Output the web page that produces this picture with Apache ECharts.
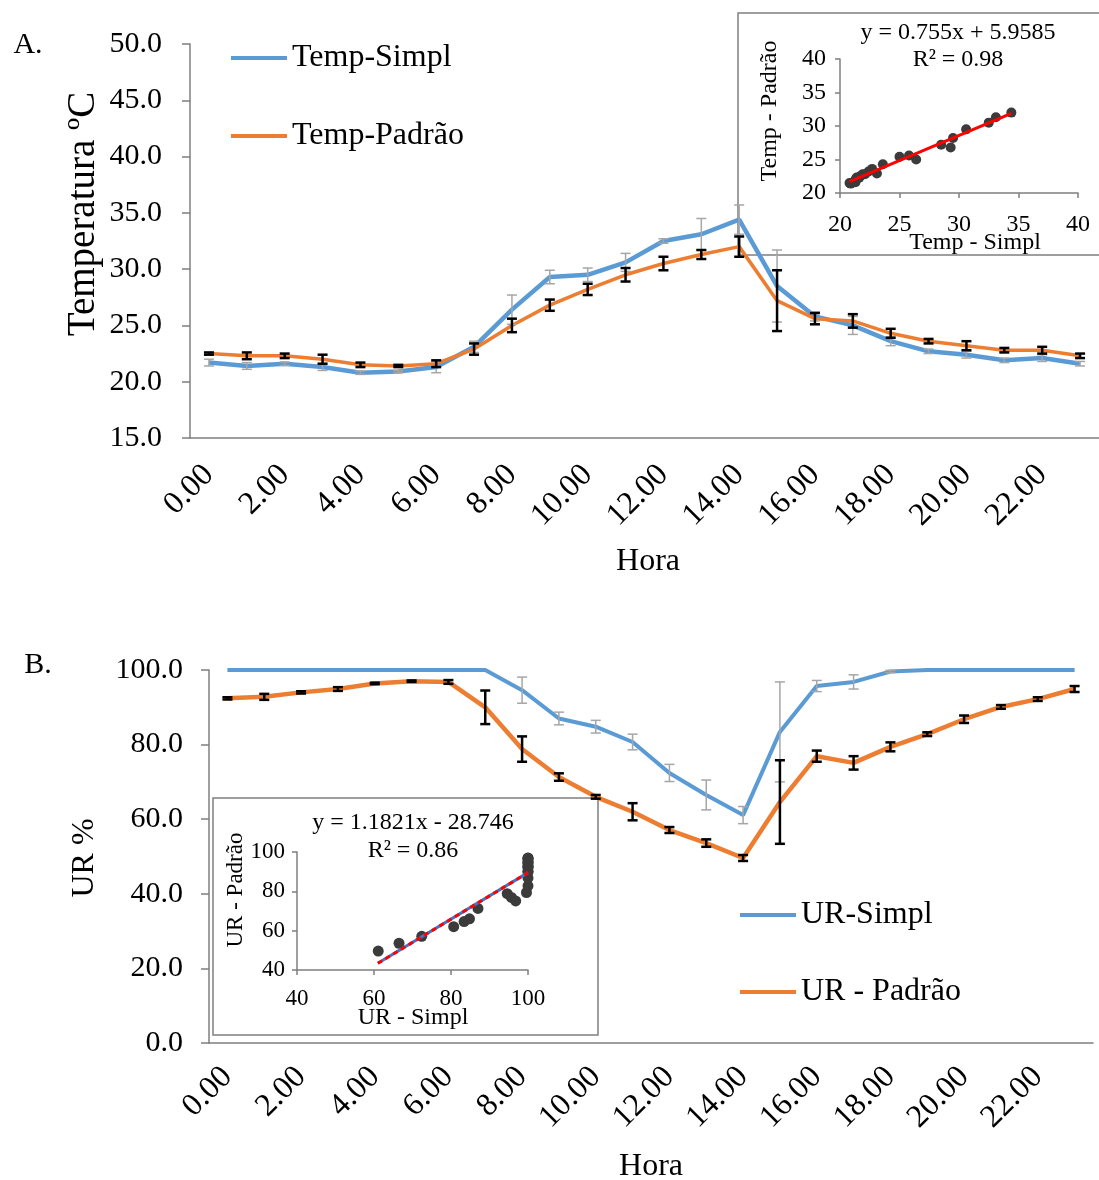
<!DOCTYPE html>
<html>
<head>
<meta charset="utf-8">
<script src="https://cdn.jsdelivr.net/npm/echarts@6/dist/echarts.min.js"></script>
<style>
  html, body { margin: 0; padding: 0; background: #fff; }
  #chart { width: 1099px; height: 1180px; }
</style>
</head>
<body>
<div id="chart"></div>
<script>
// categorias (hora)
const hours = ['0.00', '1.00', '2.00', '3.00', '4.00', '5.00', '6.00', '7.00', '8.00', '9.00', '10.00', '11.00',
  '12.00', '13.00', '14.00', '15.00', '16.00', '17.00', '18.00', '19.00', '20.00', '21.00', '22.00', '23.00']

// A. temperatura
const tempSimpl = [21.7, 21.4, 21.6, 21.3, 20.8, 20.9, 21.3, 23.1, 26.4, 29.3, 29.5, 30.6,
  32.5, 33.1, 34.4, 28.5, 25.8, 25.0, 23.6, 22.7, 22.4, 21.9, 22.1, 21.6]
const tempPadrao = [22.5, 22.3, 22.3, 22.0, 21.5, 21.4, 21.6, 22.9, 25.0, 26.8, 28.2, 29.5,
  30.5, 31.3, 32.0, 27.2, 25.6, 25.4, 24.3, 23.6, 23.2, 22.8, 22.8, 22.3]
const tempSimplErr = [0.3, 0.3, 0.15, 0.3, 0.15, 0.1, 0.5, 0.5, 1.3, 0.6, 0.6, 0.8,
  0.2, 1.4, 1.3, 3.2, 0.4, 0.8, 0.4, 0.2, 0.3, 0.2, 0.3, 0.2]
const tempPadraoErr = [0.1, 0.3, 0.2, 0.4, 0.2, 0.1, 0.3, 0.5, 0.6, 0.5, 0.5, 0.6,
  0.6, 0.4, 0.9, 2.7, 0.5, 0.6, 0.4, 0.2, 0.4, 0.2, 0.3, 0.2]
const tempTrend = [[20.8, 21.7], [34.4, 31.9]]

// B. umidade relativa
const urSimpl = [100, 100, 100, 100, 100, 100, 100, 100, 94.6, 87.0, 84.8, 80.7,
  72.4, 66.5, 61.1, 83.4, 95.7, 96.8, 99.6, 100, 100, 100, 100, 100]
const urPadrao = [92.4, 92.8, 94.0, 94.9, 96.4, 97.0, 96.8, 90.0, 78.8, 71.3, 66.0, 62.0,
  57.1, 53.6, 49.6, 64.6, 76.9, 75.1, 79.4, 82.8, 86.8, 90.1, 92.2, 94.9]
const urSimplErr = [0, 0, 0, 0, 0, 0, 0, 0, 3.5, 1.7, 1.7, 2.1,
  2.3, 4.0, 2.3, 13.4, 1.5, 1.9, 0.3, 0, 0, 0, 0, 0]
const urPadraoErr = [0.3, 0.8, 0.3, 0.5, 0.2, 0.2, 0.5, 4.5, 3.4, 1.0, 0.5, 2.3,
  0.8, 1.0, 0.8, 11.2, 1.5, 1.8, 1.2, 0.5, 1.0, 0.5, 0.5, 0.8]
const urTrend = [[61, 43.4], [100, 89.5]]

const FONT = "'Liberation Serif', 'Times New Roman', serif"
const AXIS = '#7f7f7f'
const BLUE = '#5B9BD5'
const ORANGE = '#ED7D31'

function errData(vals, errs) {
  return vals.map((v, i) => [i, v - errs[i], v + errs[i]])
}

function errSeries(data, xi, color, width) {
  return {
    type: 'custom',
    xAxisIndex: xi,
    yAxisIndex: xi,
    z: 5,
    data: data,
    encode: { x: 0, y: [1, 2] },
    renderItem: function (params, api) {
      const lo = api.coord([api.value(0), api.value(1)])
      const hi = api.coord([api.value(0), api.value(2)])
      if (Math.abs(lo[1] - hi[1]) < 1) return
      const w = 5
      const st = { stroke: color, lineWidth: width }
      return {
        type: 'group',
        children: [
          { type: 'line', shape: { x1: lo[0], y1: lo[1], x2: hi[0], y2: hi[1] }, style: st },
          { type: 'line', shape: { x1: lo[0] - w, y1: lo[1], x2: lo[0] + w, y2: lo[1] }, style: st },
          { type: 'line', shape: { x1: hi[0] - w, y1: hi[1], x2: hi[0] + w, y2: hi[1] }, style: st }
        ]
      }
    }
  }
}

function catAxis(gi, margin) {
  return {
    type: 'category',
    gridIndex: gi,
    data: hours,
    axisLine: { lineStyle: { color: AXIS, width: 1.5 } },
    axisTick: { interval: 3, length: 8, lineStyle: { color: AXIS, width: 1.5 } },
    axisLabel: { interval: 1, rotate: 45, margin: margin, fontFamily: FONT, fontSize: 32, color: '#000' },
    splitLine: { show: false }
  }
}

function valAxis(gi, min, max, step, size, margin, fmt) {
  return {
    type: 'value',
    gridIndex: gi,
    min: min,
    max: max,
    interval: step,
    axisLine: { show: true, lineStyle: { color: AXIS, width: 1.5 } },
    axisTick: { show: true, length: size > 25 ? 8 : 5, lineStyle: { color: AXIS, width: 1.5 } },
    axisLabel: { margin: margin, fontFamily: FONT, fontSize: size, color: '#000', formatter: fmt },
    splitLine: { show: false }
  }
}

function txt(text, x, y, size, rot) {
  return {
    type: 'text',
    x: x,
    y: y,
    rotation: rot ? Math.PI / 2 : 0,
    style: { text: text, fontFamily: FONT, fontSize: size, fill: '#000', align: 'center', verticalAlign: 'middle' }
  }
}

const chart = echarts.init(document.getElementById('chart'))

const legendText = { fontFamily: FONT, fontSize: 32, color: '#000' }

const option = {
  animation: false,
  backgroundColor: '#fff',
  grid: [
    { left: 190, top: 44, width: 917, height: 394 },
    { left: 209, top: 670, width: 884, height: 373 },
    { left: 840, top: 59, width: 238, height: 134 },
    { left: 297, top: 852, width: 231, height: 118 }
  ],
  xAxis: [
    catAxis(0, 32),
    catAxis(1, 29),
    Object.assign(valAxis(2, 20, 40, 5, 24, 20), { axisTick: { length: 5, lineStyle: { color: AXIS, width: 1.5 } } }),
    Object.assign(valAxis(3, 40, 100, 20, 23, 17), { axisTick: { length: 5, lineStyle: { color: AXIS, width: 1.5 } } })
  ],
  yAxis: [
    valAxis(0, 15, 50, 5, 30, 28, v => v.toFixed(1)),
    valAxis(1, 0, 100, 20, 30, 26, v => v.toFixed(1)),
    valAxis(2, 20, 40, 5, 24, 14),
    valAxis(3, 40, 100, 20, 23, 12)
  ],
  legend: [
    {
      data: [{ name: 'Temp-Simpl', icon: 'rect' }, { name: 'Temp-Padrão', icon: 'rect' }],
      orient: 'vertical', left: 231, top: 42, itemGap: 46, itemWidth: 56, itemHeight: 4, padding: 0,
      textStyle: legendText
    },
    {
      data: [{ name: 'UR-Simpl', icon: 'rect' }, { name: 'UR - Padrão', icon: 'rect' }],
      orient: 'vertical', left: 740, top: 899, itemGap: 45, itemWidth: 56, itemHeight: 4, padding: 0,
      textStyle: legendText
    }
  ],
  graphic: [
    { type: 'rect', z: 0, shape: { x: 738, y: 13, width: 380, height: 242 }, style: { fill: 'none', stroke: AXIS, lineWidth: 1.5 } },
    { type: 'rect', z: 0, shape: { x: 213, y: 798, width: 385, height: 237 }, style: { fill: 'none', stroke: AXIS, lineWidth: 1.5 } },
    txt('A.', 28, 45, 30),
    txt('B.', 38, 665, 30),
    txt('Temperatura ºC', 84, 214, 39, true),
    txt('Hora', 648, 562, 32),
    txt('UR %', 85, 858, 32, true),
    txt('Hora', 651, 1167, 32),
    txt('y = 0.755x + 5.9585', 958, 33, 24),
    txt('R² = 0.98', 958, 60, 24),
    txt('Temp - Padrão', 770, 111, 24, true),
    txt('Temp - Simpl', 975, 243, 24),
    txt('y = 1.1821x - 28.746', 413, 823, 24),
    txt('R² = 0.86', 413, 851, 24),
    txt('UR - Padrão', 236, 890, 23, true),
    txt('UR - Simpl', 413, 1018, 24)
  ],
  series: [
    {
      name: 'Temp-Simpl', type: 'line', xAxisIndex: 0, yAxisIndex: 0, data: tempSimpl,
      symbol: 'none', color: BLUE, lineStyle: { color: BLUE, width: 4.5 }, z: 3
    },
    {
      name: 'Temp-Padrão', type: 'line', xAxisIndex: 0, yAxisIndex: 0, data: tempPadrao,
      symbol: 'none', color: ORANGE, lineStyle: { color: ORANGE, width: 3.5 }, z: 4
    },
    errSeries(errData(tempSimpl, tempSimplErr), 0, '#a6a6a6', 1.5),
    errSeries(errData(tempPadrao, tempPadraoErr), 0, '#000', 2.5),
    {
      name: 'UR-Simpl', type: 'line', xAxisIndex: 1, yAxisIndex: 1, data: urSimpl,
      symbol: 'none', color: BLUE, lineStyle: { color: BLUE, width: 4 }, z: 3
    },
    {
      name: 'UR - Padrão', type: 'line', xAxisIndex: 1, yAxisIndex: 1, data: urPadrao,
      symbol: 'none', color: ORANGE, lineStyle: { color: ORANGE, width: 4.5 }, z: 4
    },
    errSeries(errData(urSimpl, urSimplErr), 1, '#a6a6a6', 1.5),
    errSeries(errData(urPadrao, urPadraoErr), 1, '#000', 2.5),
    {
      type: 'scatter', xAxisIndex: 2, yAxisIndex: 2, symbolSize: 10,
      data: tempSimpl.map((v, i) => [v, tempPadrao[i]]),
      itemStyle: { color: '#3b3b3b', opacity: 1 }
    },
    {
      type: 'line', xAxisIndex: 2, yAxisIndex: 2, data: tempTrend, symbol: 'none',
      lineStyle: { color: '#ff0000', width: 3 }, z: 6
    },
    {
      type: 'scatter', xAxisIndex: 3, yAxisIndex: 3, symbolSize: 11,
      data: urSimpl.map((v, i) => [v, urPadrao[i]]),
      itemStyle: { color: '#3b3b3b', opacity: 1 }
    },
    {
      type: 'line', xAxisIndex: 3, yAxisIndex: 3, data: urTrend, symbol: 'none',
      lineStyle: { color: '#4472C4', width: 3 }, z: 6
    },
    {
      type: 'line', xAxisIndex: 3, yAxisIndex: 3, data: urTrend, symbol: 'none',
      lineStyle: { color: '#ff0000', width: 3, type: [5, 4] }, z: 7
    }
  ]
}

chart.setOption(option)
window.addEventListener('resize', function () {
  chart.resize()
})
</script>
</body>
</html>
